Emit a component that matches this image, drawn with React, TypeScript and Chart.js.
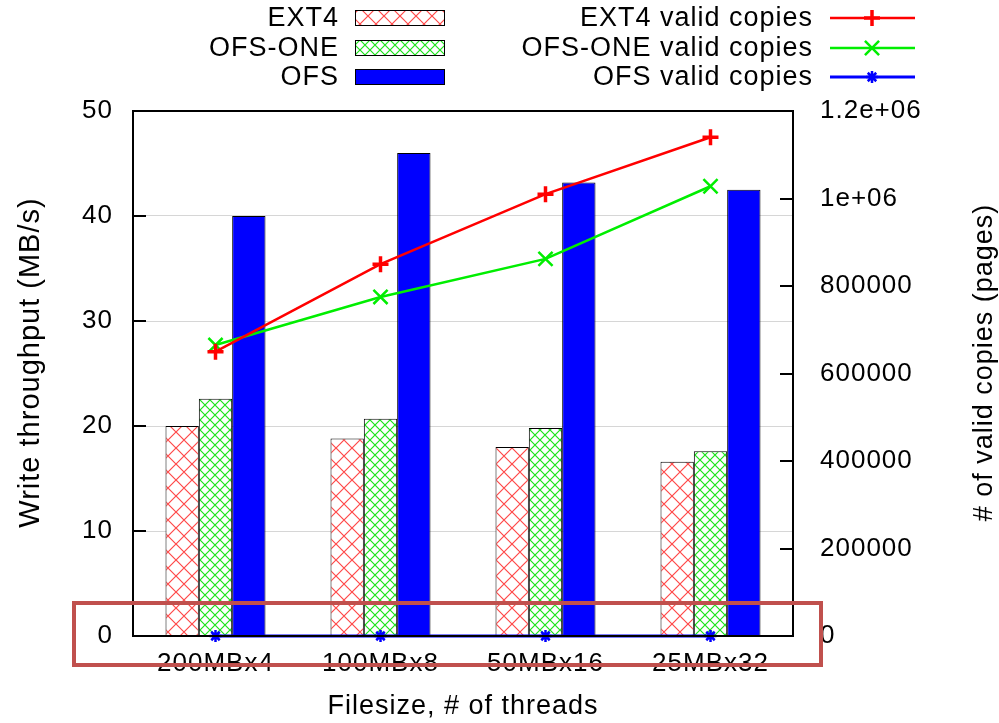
import React, { useEffect, useRef } from 'react';
import { Chart, registerables } from 'chart.js';

Chart.register(...registerables);

// Workload configurations (file size x thread count)
const categories = ['200MBx4', '100MBx8', '50MBx16', '25MBx32'];

// Write throughput in MB/s (left axis, bars)
const ext4Throughput = [20.0, 18.8, 18.0, 16.6];
const ofsOneThroughput = [22.6, 20.7, 19.8, 17.6];
const ofsThroughput = [40.0, 46.0, 43.2, 42.5];

// Number of valid page copies (right axis, lines)
const ext4ValidCopies = [650000, 850000, 1010000, 1140000];
const ofsOneValidCopies = [665000, 775000, 862000, 1028000];
const ofsValidCopies = [0, 0, 0, 0];

// Right axis tick values and their gnuplot-style labels
const copiesTickValues = [0, 200000, 400000, 600000, 800000, 1000000, 1200000];
const copiesTickLabels = ['0', '200000', '400000', '600000', '800000', '1e+06', '1.2e+06'];

// Axis titles
const xTitle = 'Filesize, # of threads';
const yTitle = 'Write throughput (MB/s)';
const y2Title = '# of valid copies (pages)';

const FONT_FAMILY = '"Liberation Sans", Arial, Helvetica, sans-serif';
const TICK_FONT = { family: FONT_FAMILY, size: 26 };
const X_TITLE_FONT = { family: FONT_FAMILY, size: 27 };
const Y_TITLE_SIZE = 29;
const Y2_TITLE_SIZE = 27;
const LEGEND_SIZE = 27;
const LETTER_SPACING = '1px';

function makeHatch(color: string, tile: number, width: number): CanvasPattern | string {
  const c = document.createElement('canvas');
  c.width = tile;
  c.height = tile;
  const g = c.getContext('2d');
  if (!g) return '#fff';
  g.fillStyle = '#ffffff';
  g.fillRect(0, 0, tile, tile);
  g.strokeStyle = color;
  g.lineWidth = width;
  g.beginPath();
  g.moveTo(-1, -1);
  g.lineTo(tile + 1, tile + 1);
  g.moveTo(tile + 1, -1);
  g.lineTo(-1, tile + 1);
  g.stroke();
  const p = g.createPattern(c, 'repeat');
  return p || '#fff';
}

function setSpacing(ctx: any) {
  if (ctx && 'letterSpacing' in ctx) ctx.letterSpacing = LETTER_SPACING;
}

// Slightly wider text tracking for every label the chart draws
const spacingPlugin = {
  id: 'spacing',
  beforeUpdate(chart: any) {
    setSpacing(chart.ctx);
  },
  beforeLayout(chart: any) {
    setSpacing(chart.ctx);
  },
  beforeDraw(chart: any) {
    setSpacing(chart.ctx);
  },
};

// Plot frame with inward ticks on both vertical axes
const framePlugin = {
  id: 'frame',
  afterDatasetsDraw(chart: any) {
    const { ctx, chartArea } = chart;
    const { left, right, top, bottom } = chartArea;
    ctx.save();
    ctx.strokeStyle = '#000';
    ctx.lineWidth = 2;
    ctx.strokeRect(left, top, right - left, bottom - top);
    const tickLen = 13;
    ctx.beginPath();
    const y = chart.scales.y;
    y.ticks.forEach((t: any) => {
      const py = Math.round(y.getPixelForValue(t.value));
      ctx.moveTo(left, py);
      ctx.lineTo(left + tickLen, py);
    });
    const y2 = chart.scales.y2;
    y2.ticks.forEach((t: any) => {
      const py = Math.round(y2.getPixelForValue(t.value));
      ctx.moveTo(right, py);
      ctx.lineTo(right - tickLen, py);
    });
    ctx.stroke();
    ctx.restore();
  },
};

function drawMarker(ctx: CanvasRenderingContext2D, style: string, x: number, y: number, r: number, color: string, w: number) {
  ctx.save();
  ctx.strokeStyle = color;
  ctx.lineWidth = w;
  ctx.beginPath();
  if (style === 'cross' || style === 'star') {
    ctx.moveTo(x - r, y);
    ctx.lineTo(x + r, y);
    ctx.moveTo(x, y - r);
    ctx.lineTo(x, y + r);
  }
  if (style === 'crossRot' || style === 'star') {
    const o = Math.cos(Math.PI / 4) * r;
    ctx.moveTo(x - o, y - o);
    ctx.lineTo(x + o, y + o);
    ctx.moveTo(x + o, y - o);
    ctx.lineTo(x - o, y + o);
  }
  ctx.stroke();
  ctx.restore();
}

function drawVerticalTitle(ctx: CanvasRenderingContext2D, text: string, x: number, y: number, size: number) {
  ctx.save();
  ctx.translate(x, y);
  ctx.rotate(-Math.PI / 2);
  ctx.textAlign = 'center';
  ctx.textBaseline = 'middle';
  ctx.font = `${size}px ${FONT_FAMILY}`;
  ctx.fillStyle = '#000';
  ctx.fillText(text, 0, 0);
  ctx.restore();
}

// Two-column key above the plot, vertical axis titles and the highlight box
const overlayPlugin = {
  id: 'overlay',
  afterDraw(chart: any) {
    const { ctx, chartArea } = chart;
    const ds = chart.data.datasets;
    ctx.save();
    setSpacing(ctx);
    ctx.font = `${LEGEND_SIZE}px ${FONT_FAMILY}`;
    ctx.textAlign = 'right';
    ctx.textBaseline = 'middle';
    const rows = [18, 48, 77];

    // bar entries
    const barEntries = ds.filter((d: any) => d.type !== 'line');
    barEntries.forEach((d: any, i: number) => {
      const cy = rows[i];
      ctx.fillStyle = '#000';
      ctx.fillText(d.label, 339, cy + 1);
      ctx.fillStyle = d.backgroundColor;
      ctx.fillRect(355, cy - 8, 90, 16);
      ctx.strokeStyle = '#000';
      ctx.lineWidth = 1;
      ctx.strokeRect(355.5, cy - 7.5, 89, 15);
    });

    // line entries
    const lineEntries = ds.filter((d: any) => d.type === 'line');
    lineEntries.forEach((d: any, i: number) => {
      const cy = rows[i];
      ctx.fillStyle = '#000';
      ctx.fillText(d.label, 813, cy + 1);
      ctx.strokeStyle = d.borderColor;
      ctx.lineWidth = d.borderWidth;
      ctx.beginPath();
      ctx.moveTo(830, cy);
      ctx.lineTo(915, cy);
      ctx.stroke();
      drawMarker(ctx, d.pointStyle, 872, cy, d.pointRadius, d.borderColor, d.pointBorderWidth);
    });

    // vertical axis titles, both reading bottom to top
    const midY = (chartArea.top + chartArea.bottom) / 2 - 11;
    drawVerticalTitle(ctx, yTitle, 31, midY, Y_TITLE_SIZE);
    drawVerticalTitle(ctx, y2Title, 985, midY, Y2_TITLE_SIZE);

    // highlight box around the category axis
    ctx.strokeStyle = '#c0504d';
    ctx.lineWidth = 4;
    ctx.strokeRect(chartArea.left - 59, chartArea.bottom - 33, chartArea.right - chartArea.left + 87, 62);
    ctx.restore();
  },
};

export default function App() {
  const canvasRef = useRef<HTMLCanvasElement | null>(null);

  useEffect(() => {
    const canvas = canvasRef.current;
    if (!canvas) return;
    const redHatch = makeHatch('rgba(255,40,40,0.85)', 16, 1.2);
    const greenHatch = makeHatch('rgba(0,225,0,0.9)', 10, 1.2);

    const barCommon = {
      borderColor: '#000',
      borderWidth: 1,
      barPercentage: 1,
      categoryPercentage: 0.606,
      yAxisID: 'y',
      order: 2,
    };

    const chart = new Chart(canvas, {
      type: 'bar',
      data: {
        labels: categories,
        datasets: [
          { ...barCommon, label: 'EXT4', data: ext4Throughput, backgroundColor: redHatch as any },
          { ...barCommon, label: 'OFS-ONE', data: ofsOneThroughput, backgroundColor: greenHatch as any },
          { ...barCommon, label: 'OFS', data: ofsThroughput, backgroundColor: '#0000ff' },
          {
            type: 'line',
            label: 'EXT4 valid copies',
            data: ext4ValidCopies,
            borderColor: '#ff0000',
            backgroundColor: '#ff0000',
            borderWidth: 2.5,
            pointStyle: 'cross',
            pointRadius: 8,
            pointBorderWidth: 3.5,
            pointBorderColor: '#ff0000',
            tension: 0,
            yAxisID: 'y2',
            order: 1,
          } as any,
          {
            type: 'line',
            label: 'OFS-ONE valid copies',
            data: ofsOneValidCopies,
            borderColor: '#00ee00',
            backgroundColor: '#00ee00',
            borderWidth: 2.5,
            pointStyle: 'crossRot',
            pointRadius: 10,
            pointBorderWidth: 2.5,
            pointBorderColor: '#00ee00',
            tension: 0,
            yAxisID: 'y2',
            order: 1,
          } as any,
          {
            type: 'line',
            label: 'OFS valid copies',
            data: ofsValidCopies,
            borderColor: '#0000ff',
            backgroundColor: '#0000ff',
            borderWidth: 3,
            pointStyle: 'star',
            pointRadius: 6,
            pointBorderWidth: 2.5,
            pointBorderColor: '#0000ff',
            tension: 0,
            clip: false,
            yAxisID: 'y2',
            order: 1,
          } as any,
        ],
      },
      options: {
        responsive: false,
        animation: false,
        devicePixelRatio: 1,
        layout: { padding: { top: 111, left: 0, right: 0, bottom: 0 } },
        plugins: {
          legend: { display: false },
          tooltip: { enabled: false },
        },
        scales: {
          x: {
            type: 'category',
            offset: true,
            grid: { display: false, drawTicks: false },
            border: { display: false },
            ticks: { font: TICK_FONT, color: '#000', padding: 12, maxRotation: 0, autoSkip: false },
            title: {
              display: true,
              text: xTitle,
              font: X_TITLE_FONT,
              color: '#000',
              padding: { top: 0, bottom: 0 },
            },
            afterFit: (s: any) => {
              s.height = 87;
            },
          },
          y: {
            type: 'linear',
            position: 'left',
            min: 0,
            max: 50,
            ticks: { stepSize: 10, font: TICK_FONT, color: '#000', padding: 20 },
            grid: {
              drawTicks: false,
              lineWidth: 1,
              color: (c: any) => (c.tick && c.tick.value > 0 && c.tick.value < 50 ? '#d6d6d6' : 'rgba(0,0,0,0)'),
            },
            border: { display: false },
            title: { display: false, text: yTitle },
            afterFit: (s: any) => {
              s.width = 133;
            },
          },
          y2: {
            type: 'linear',
            position: 'right',
            min: 0,
            max: 1200000,
            afterBuildTicks: (s: any) => {
              s.ticks = copiesTickValues.map((v) => ({ value: v }));
            },
            ticks: {
              font: TICK_FONT,
              color: '#000',
              padding: 27,
              callback: (v: any) => {
                const i = copiesTickValues.indexOf(Number(v));
                return i >= 0 ? copiesTickLabels[i] : String(v);
              },
            },
            grid: { display: false, drawTicks: false },
            border: { display: false },
            title: { display: false, text: y2Title },
            afterFit: (s: any) => {
              s.width = 206;
            },
          },
        },
      },
      plugins: [spacingPlugin, framePlugin, overlayPlugin],
    } as any);

    return () => {
      chart.destroy();
    };
  }, []);

  return (
    <div style={{ position: 'fixed', left: 0, top: 0, width: 999, height: 723, background: '#fff' }}>
      <canvas ref={canvasRef} width={999} height={723} style={{ display: 'block' }} />
    </div>
  );
}
